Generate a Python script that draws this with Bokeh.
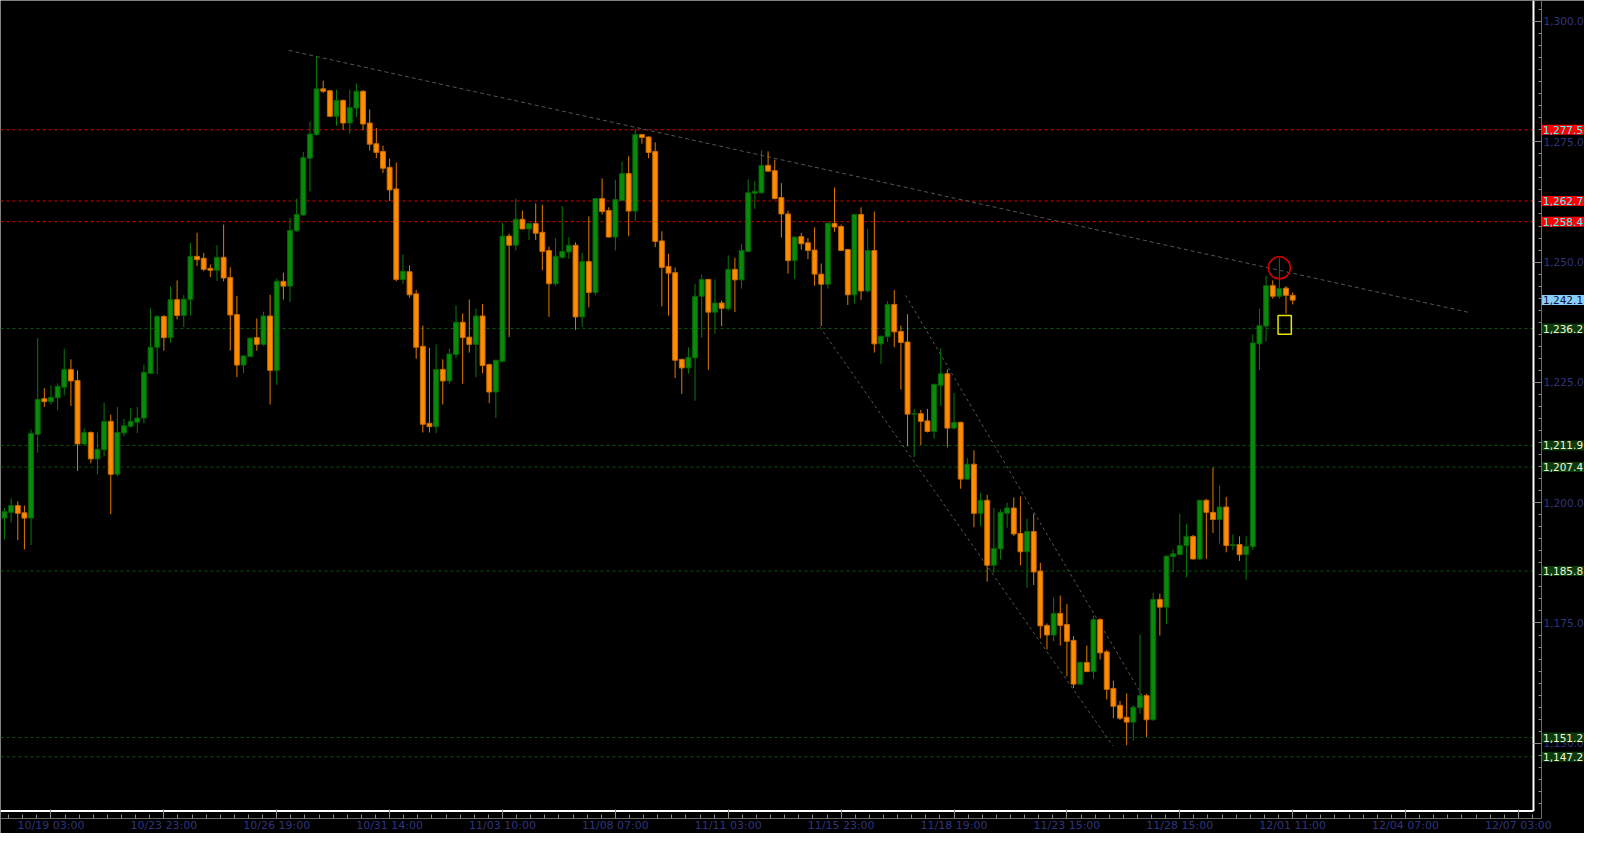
import numpy as np
from bokeh.plotting import figure
from bokeh.models import (Range1d, FixedTicker, NumeralTickFormatter, Label,
                          ColumnDataSource, LinearAxis)
from bokeh.embed import file_html
from bokeh.resources import INLINE

# ---------------- data (4h bars) ----------------
opens = [1196.8, 1198.0, 1199.4, 1197.9, 1196.8, 1214.2, 1221.6, 1221.0, 1221.8, 1224.0,
         1227.7, 1225.4, 1212.2, 1214.6, 1209.1, 1211.0, 1216.9, 1205.9, 1214.5, 1215.9,
         1216.7, 1217.6, 1226.9, 1232.3, 1238.7, 1234.3, 1242.2, 1238.9, 1242.2, 1251.2,
         1250.8, 1248.7, 1248.3, 1251.0, 1246.8, 1239.1, 1228.6, 1230.4, 1234.3, 1232.9,
         1238.8, 1227.5, 1246.0, 1245.0, 1256.5, 1259.8, 1271.6, 1276.5, 1286.0, 1285.6,
         1280.3, 1283.6, 1278.9, 1282.0, 1285.5, 1278.9, 1274.6, 1273.0, 1269.7, 1265.2,
         1246.4, 1248.0, 1243.4, 1232.5, 1216.5, 1215.8, 1227.7, 1225.3, 1230.8, 1237.5,
         1234.4, 1232.9, 1238.8, 1228.7, 1223.0, 1229.4, 1255.4, 1253.5, 1258.9, 1256.9,
         1258.0, 1256.2, 1252.4, 1245.5, 1251.0, 1252.1, 1253.5, 1238.6, 1250.1, 1243.7,
         1263.2, 1260.7, 1255.2, 1262.8, 1268.4, 1260.6, 1276.5, 1276.0, 1273.0, 1254.4,
         1249.1, 1247.8, 1229.8, 1228.0, 1230.1, 1242.9, 1246.4, 1239.6, 1241.5, 1240.3,
         1248.5, 1246.3, 1252.2, 1264.3, 1264.4, 1270.1, 1269.0, 1263.4, 1260.0, 1250.3,
         1255.3, 1254.0, 1252.5, 1247.5, 1245.4, 1258.0, 1257.4, 1252.6, 1243.2, 1259.9,
         1244.0, 1252.4, 1233.0, 1234.5, 1241.2, 1235.6, 1233.4, 1218.4, 1218.5, 1217.0,
         1214.8, 1224.4, 1226.8, 1215.5, 1216.7, 1204.9, 1208.0, 1197.8, 1200.5, 1187.0,
         1190.4, 1197.8, 1198.9, 1193.6, 1189.8, 1194.0, 1185.8, 1174.5, 1172.5, 1177.0,
         1174.7, 1171.4, 1162.3, 1166.8, 1164.9, 1175.7, 1169.0, 1161.4, 1157.9, 1155.4,
         1154.4, 1157.4, 1159.9, 1154.9, 1179.9, 1178.3, 1188.8, 1189.2, 1191.1, 1193.0,
         1188.3, 1200.5, 1198.0, 1196.5, 1199.1, 1191.1, 1191.3, 1189.2, 1190.9, 1233.0,
         1236.7, 1245.1, 1242.9, 1244.6, 1243.1]
highs = [1198.9, 1200.9, 1200.3, 1199.4, 1215.2, 1234.2, 1223.8, 1224.4, 1224.8, 1232.0,
         1229.8, 1227.5, 1215.4, 1214.8, 1214.6, 1220.8, 1218.3, 1219.9, 1217.4, 1219.7,
         1219.9, 1228.7, 1240.4, 1239.0, 1239.0, 1245.0, 1246.2, 1243.2, 1254.0, 1256.1,
         1251.9, 1249.5, 1253.5, 1257.8, 1248.9, 1243.0, 1230.6, 1234.4, 1238.3, 1239.7,
         1243.2, 1246.6, 1247.8, 1259.2, 1263.2, 1272.9, 1279.2, 1292.7, 1287.7, 1285.8,
         1285.8, 1283.8, 1285.8, 1287.1, 1285.7, 1281.7, 1277.9, 1274.2, 1271.5, 1270.7,
         1251.6, 1249.3, 1244.2, 1236.8, 1232.2, 1232.9, 1229.8, 1232.0, 1241.0, 1239.3,
         1242.2, 1240.3, 1241.3, 1228.9, 1229.7, 1258.2, 1255.9, 1263.2, 1260.7, 1258.1,
         1262.2, 1261.9, 1253.2, 1255.0, 1261.7, 1255.2, 1254.1, 1251.9, 1259.5, 1263.3,
         1267.4, 1261.4, 1267.1, 1270.9, 1272.0, 1277.7, 1276.6, 1276.1, 1274.9, 1256.4,
         1251.7, 1248.9, 1229.9, 1232.3, 1245.5, 1247.4, 1246.5, 1246.4, 1242.0, 1251.4,
         1250.9, 1253.8, 1267.2, 1266.8, 1273.2, 1273.0, 1271.3, 1266.4, 1260.7, 1255.3,
         1256.1, 1255.0, 1257.2, 1249.7, 1258.2, 1265.5, 1257.8, 1252.7, 1260.0, 1261.4,
         1256.9, 1260.5, 1234.7, 1241.9, 1244.2, 1236.8, 1239.2, 1219.5, 1219.3, 1219.5,
         1224.7, 1232.1, 1227.7, 1222.8, 1216.8, 1209.3, 1210.9, 1202.0, 1201.6, 1198.9,
         1198.6, 1200.0, 1201.1, 1201.3, 1196.7, 1197.7, 1187.5, 1174.9, 1180.3, 1180.7,
         1178.9, 1172.3, 1167.0, 1170.3, 1176.5, 1176.0, 1169.4, 1163.0, 1158.8, 1160.4,
         1157.9, 1172.6, 1160.3, 1181.3, 1181.1, 1189.0, 1190.3, 1197.7, 1195.6, 1193.3,
         1200.6, 1200.8, 1207.3, 1203.6, 1201.2, 1193.4, 1193.0, 1193.0, 1235.0, 1240.3,
         1247.2, 1246.2, 1250.8, 1245.0, 1243.7]
lows = [1192.4, 1195.9, 1192.2, 1190.3, 1191.2, 1210.4, 1219.9, 1220.4, 1219.2, 1222.3,
        1220.1, 1206.6, 1211.9, 1208.2, 1205.9, 1209.6, 1197.6, 1205.5, 1213.8, 1215.6,
        1214.5, 1216.5, 1226.7, 1226.7, 1231.6, 1233.2, 1238.1, 1236.5, 1238.9, 1249.2,
        1248.1, 1246.9, 1246.1, 1246.0, 1231.6, 1226.1, 1226.9, 1230.2, 1231.6, 1232.6,
        1220.4, 1224.5, 1242.2, 1241.7, 1256.3, 1259.6, 1264.7, 1276.3, 1285.1, 1280.1,
        1278.3, 1277.5, 1276.7, 1280.1, 1277.4, 1273.2, 1271.6, 1268.5, 1262.7, 1246.0,
        1245.5, 1242.6, 1229.9, 1214.6, 1214.6, 1214.5, 1220.4, 1224.7, 1230.1, 1224.7,
        1231.2, 1226.1, 1226.9, 1220.7, 1217.6, 1229.1, 1234.4, 1252.4, 1256.8, 1254.6,
        1254.6, 1248.3, 1238.6, 1245.0, 1250.7, 1250.7, 1235.9, 1236.5, 1240.6, 1243.1,
        1259.9, 1255.1, 1252.4, 1262.7, 1255.4, 1258.5, 1274.6, 1271.6, 1253.1, 1240.8,
        1238.9, 1225.9, 1222.6, 1226.8, 1221.2, 1234.3, 1227.6, 1235.1, 1236.7, 1239.9,
        1239.6, 1244.5, 1252.0, 1261.1, 1264.2, 1268.8, 1263.0, 1255.1, 1247.6, 1246.5,
        1252.6, 1250.6, 1245.1, 1236.7, 1244.5, 1256.3, 1252.3, 1241.1, 1241.4, 1242.1,
        1243.7, 1231.2, 1228.8, 1233.4, 1232.3, 1223.5, 1211.7, 1209.5, 1212.0, 1214.6,
        1213.3, 1220.1, 1211.5, 1215.2, 1202.9, 1204.8, 1194.9, 1195.1, 1183.6, 1185.4,
        1188.2, 1194.8, 1193.1, 1187.0, 1182.3, 1182.9, 1171.8, 1169.5, 1171.2, 1170.3,
        1163.9, 1161.5, 1162.2, 1164.8, 1163.4, 1167.4, 1159.1, 1155.2, 1154.8, 1149.6,
        1150.6, 1156.1, 1151.3, 1154.7, 1172.4, 1174.8, 1185.6, 1189.1, 1184.5, 1188.2,
        1188.1, 1188.3, 1193.7, 1191.5, 1189.7, 1190.1, 1187.9, 1184.0, 1190.2, 1227.6,
        1233.5, 1242.4, 1242.4, 1239.3, 1241.2]
closes = [1198.1, 1199.4, 1197.8, 1196.8, 1214.4, 1221.5, 1221.0, 1221.9, 1224.2, 1227.7,
          1225.3, 1212.2, 1214.6, 1209.1, 1211.1, 1216.9, 1205.9, 1214.6, 1216.0, 1216.9,
          1217.6, 1227.1, 1232.3, 1238.7, 1234.3, 1242.2, 1238.9, 1242.3, 1251.2, 1250.5,
          1248.5, 1248.3, 1251.0, 1246.7, 1239.0, 1228.6, 1230.5, 1234.2, 1232.9, 1238.8,
          1227.5, 1246.0, 1245.0, 1256.6, 1259.9, 1271.7, 1276.6, 1286.0, 1285.5, 1280.3,
          1283.6, 1278.9, 1282.1, 1285.5, 1278.7, 1274.5, 1272.8, 1269.5, 1265.0, 1246.4,
          1248.1, 1243.2, 1232.3, 1216.3, 1215.8, 1227.7, 1225.3, 1230.9, 1237.5, 1234.3,
          1232.9, 1238.8, 1228.5, 1223.0, 1229.6, 1255.4, 1253.5, 1258.9, 1256.9, 1258.0,
          1256.0, 1252.2, 1245.5, 1251.2, 1252.2, 1253.5, 1238.6, 1250.1, 1243.7, 1263.2,
          1260.5, 1255.2, 1263.0, 1268.4, 1260.6, 1276.5, 1275.9, 1272.8, 1254.3, 1248.9,
          1247.7, 1229.6, 1228.0, 1230.2, 1242.9, 1246.4, 1239.6, 1241.5, 1240.4, 1248.5,
          1246.3, 1252.4, 1264.4, 1264.7, 1270.1, 1268.9, 1263.2, 1260.0, 1250.3, 1255.2,
          1253.8, 1252.4, 1247.5, 1245.4, 1258.1, 1257.3, 1252.4, 1243.2, 1259.9, 1244.0,
          1252.4, 1233.0, 1234.6, 1241.2, 1235.5, 1233.3, 1218.4, 1218.5, 1216.9, 1214.8,
          1224.6, 1226.8, 1215.5, 1216.7, 1204.9, 1208.0, 1197.8, 1200.5, 1187.0, 1190.5,
          1198.0, 1198.9, 1193.5, 1189.8, 1194.0, 1185.6, 1174.4, 1172.5, 1177.0, 1174.5,
          1171.2, 1162.3, 1166.8, 1164.9, 1175.7, 1168.8, 1161.2, 1157.7, 1155.2, 1154.4,
          1157.5, 1159.9, 1154.9, 1179.9, 1178.3, 1188.9, 1189.4, 1191.1, 1193.0, 1188.3,
          1200.5, 1198.0, 1196.5, 1199.1, 1191.1, 1191.3, 1189.2, 1190.9, 1233.2, 1236.8,
          1245.1, 1242.9, 1244.5, 1243.1, 1242.1]

time_tick_bars = [7, 24, 41, 58, 75, 92, 109, 126, 143, 160, 177, 194, 211, 228]
time_tick_labels = ["10/19 03:00", "10/23 23:00", "10/26 19:00", "10/31 14:00",
                    "11/03 10:00", "11/08 07:00", "11/11 03:00", "11/15 23:00",
                    "11/18 19:00", "11/23 15:00", "11/28 15:00", "12/01 11:00",
                    "12/04 07:00", "12/07 03:00"]
price_ticks = [1150, 1175, 1200, 1225, 1250, 1275, 1300]

resistance_levels = [1277.5, 1262.7, 1258.4]
support_levels = [1236.2, 1211.9, 1207.4, 1185.8, 1151.2, 1147.2]

trend_x = [42.8, 220.7]
trend_y = [1294.0, 1239.5]
chan_low_x = [122.8, 166.9]
chan_low_y = [1236.5, 1149.5]
chan_up_x = [135.7, 173.3]
chan_up_y = [1243.1, 1155.4]

mark_circle_x = [192.0]
mark_circle_y = [1248.8]
mark_box = dict(left=[191.8], right=[193.8], bottom=[1235.0], top=[1238.9])

# ---------------- layout / styling ----------------
BG = "black"
BULL = "#0a8a0a"
BULL_EDGE = "#056405"
BULL_WICK = "#0a7a0a"
BEAR = "#ff8c00"
BEAR_EDGE = "#c86a00"
BEAR_WICK = "#e07b00"
AXIS_TXT = "#30347e"
FONT = "DejaVu Sans"

# the frame covers the whole canvas; the axes sit at fixed positions inside it
X0, X1 = -0.602, 237.952       # visible bar range (whole canvas width)
Y0, Y1 = 1131.255, 1304.364    # visible price range (whole canvas height)
Y_AXIS_AT = 231.48             # bar position of the price axis line
X_AXIS_AT = 1134.37            # price position of the time axis line
X_EDGE = 230.27                # white chart border (right)
Y_EDGE = 1135.93               # white chart border (bottom)
LBL_X = 231.55                 # left edge of the price tags

o = np.array(opens); h = np.array(highs); l = np.array(lows); c = np.array(closes)
idx = np.arange(len(o))
up = c >= o

p = figure(width=1584, height=833, output_backend="svg", toolbar_location=None,
           x_range=Range1d(X0, X1), y_range=Range1d(Y0, Y1),
           x_axis_location=None, y_axis_location=None,
           min_border_left=0, min_border_top=0, min_border_right=0, min_border_bottom=0)
p.background_fill_color = BG
p.border_fill_color = BG
p.outline_line_color = None
p.xgrid.visible = False
p.ygrid.visible = False

# level lines
for lv in resistance_levels:
    p.segment(x0=[X0], y0=[lv], x1=[X_EDGE], y1=[lv], line_color="#e00000",
              line_dash="3 3", line_width=1)
for lv in support_levels:
    p.segment(x0=[X0], y0=[lv], x1=[X_EDGE], y1=[lv], line_color="#0d520d",
              line_dash="3 3", line_width=1)

# trend lines
p.line(trend_x, trend_y, line_color="#555555", line_dash="4 3", line_width=1)
p.line(chan_low_x, chan_low_y, line_color="#555555", line_dash="3 3", line_width=1)
p.line(chan_up_x, chan_up_y, line_color="#555555", line_dash="3 3", line_width=1)

# candles
su = ColumnDataSource(dict(x=idx[up], o=o[up], h=h[up], l=l[up], c=c[up]))
sd = ColumnDataSource(dict(x=idx[~up], o=o[~up], h=h[~up], l=l[~up], c=c[~up]))
p.segment(x0="x", y0="h", x1="x", y1="l", source=su, line_color=BULL_WICK, line_width=1)
p.segment(x0="x", y0="h", x1="x", y1="l", source=sd, line_color=BEAR_WICK, line_width=1)
p.vbar(x="x", width=0.74, top="c", bottom="o", source=su, fill_color=BULL,
       line_color=BULL_EDGE, line_width=1)
p.vbar(x="x", width=0.74, top="o", bottom="c", source=sd, fill_color=BEAR,
       line_color=BEAR_EDGE, line_width=1)

# markers
p.scatter(mark_circle_x, mark_circle_y, marker="circle", size=22, fill_color=None,
          line_color="#d00000", line_width=1.5)
p.quad(source=ColumnDataSource(mark_box), left="left", right="right", bottom="bottom",
       top="top", fill_color=None, line_color="#e6e600", line_width=1.5)

# white chart border (right and bottom)
p.segment(x0=[X_EDGE, X0], y0=[Y_EDGE, Y_EDGE], x1=[X_EDGE, X_EDGE], y1=[Y1, Y_EDGE],
          line_color="white", line_width=2)

# price axis
minors_y = [v for v in np.arange(1137.5, 1302.6, 2.5) if v % 25 != 0]
ya = LinearAxis(fixed_location=Y_AXIS_AT,
                ticker=FixedTicker(ticks=price_ticks, minor_ticks=minors_y),
                formatter=NumeralTickFormatter(format="0,0.0"),
                bounds=(X_AXIS_AT, Y1))
ya.axis_line_color = "#6b6b6b"
ya.major_tick_in = 8
ya.major_tick_out = 0
ya.minor_tick_in = 3
ya.minor_tick_out = 0
ya.major_tick_line_color = "#8a8a8a"
ya.minor_tick_line_color = "#8a8a8a"
ya.major_label_standoff = 2
ya.major_label_text_font = FONT
ya.major_label_text_font_size = "10.5px"
ya.major_label_text_color = AXIS_TXT
p.add_layout(ya, "right")

# time axis
minors_x = []
for t in time_tick_bars:
    for k in range(-7, 8):
        m = t + k * 17 / 8
        if k % 8 != 0 and X0 < m < Y_AXIS_AT:
            minors_x.append(m)
xa = LinearAxis(fixed_location=X_AXIS_AT,
                ticker=FixedTicker(ticks=time_tick_bars, minor_ticks=sorted(set(minors_x))),
                bounds=(X0, Y_AXIS_AT))
xa.major_label_overrides = {t: s for t, s in zip(time_tick_bars, time_tick_labels)}
xa.axis_line_color = "#6b6b6b"
xa.major_tick_in = 9
xa.major_tick_out = 0
xa.minor_tick_in = 4
xa.minor_tick_out = 0
xa.major_tick_line_color = "#8a8a8a"
xa.minor_tick_line_color = "#8a8a8a"
xa.major_label_standoff = 0
xa.major_label_text_font = FONT
xa.major_label_text_font_size = "11px"
xa.major_label_text_color = AXIS_TXT
p.add_layout(xa, "below")

# price tags on the axis
def tag(y, bg, fg):
    p.add_layout(Label(x=LBL_X, y=y, text=f"{y:,.1f}", text_baseline="middle",
                       text_align="left", text_font=FONT, text_font_size="10.5px",
                       text_color=fg, background_fill_color=bg, padding=1))

for lv in resistance_levels:
    tag(lv, "#ff0000", "#40ffff")
for lv in support_levels:
    tag(lv, "#0b3b0b", "#f5f5dc")
tag(closes[-1], "#87cefa", "#101040")

open("out.html", "w").write(file_html(p, INLINE))
